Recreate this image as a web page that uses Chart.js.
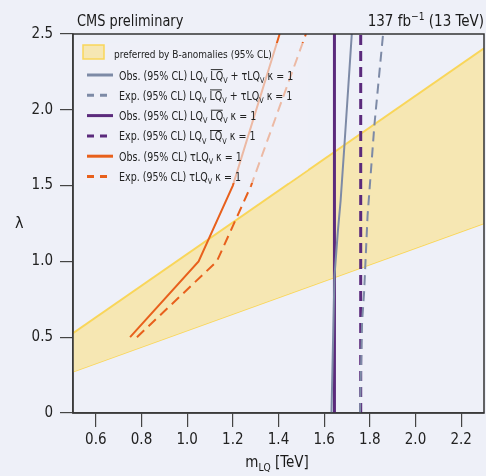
<!DOCTYPE html>
<html>
<head>
<meta charset="utf-8">
<script src="https://cdn.jsdelivr.net/npm/chart.js@4"></script>
<style>
  html, body { margin: 0; padding: 0; background: #eef0f8; }
  #wrap { width: 486px; height: 476px; position: relative; }
</style>
</head>
<body>
<div id="wrap"><canvas id="limitChart" width="486" height="476"></canvas></div>
<script>
// B-anomaly preferred band (edges at x = 0.5 and 2.3 TeV)
const bandX = [0.5, 2.3];
const bandUpper = [0.526, 2.405];
const bandLower = [0.272, 1.251];

// LQ LQbar + tau LQ, kappa = 1
const obsCombX = [1.632, 1.645, 1.66, 1.672, 1.688, 1.721];
const obsCombY = [0, 0.9, 1.2, 1.4, 1.75, 2.5];
const expCombX = [1.757, 1.766, 1.775, 1.79, 1.82, 1.858];
const expCombY = [0, 0.6, 0.8, 1.3, 1.9, 2.5];

// LQ LQbar, kappa = 1
const obsPairX = [1.645, 1.645];
const obsPairY = [0, 2.5];
const expPairX = [1.76, 1.76];
const expPairY = [0, 2.5];

// tau LQ, kappa = 1
const obsTauX = [0.75, 1.05, 1.20, 1.405];
const obsTauY = [0.5, 1.0, 1.5, 2.5];
const expTauX = [0.78, 1.13, 1.28, 1.52];
const expTauY = [0.5, 1.0, 1.5, 2.5];

const xTicks = [0.6, 0.8, 1.0, 1.2, 1.4, 1.6, 1.8, 2.0, 2.2];

const FONT = "'Liberation Sans Narrow', 'DejaVu Sans Condensed', 'Arial Narrow', sans-serif";
const GREY = '#7d8aa6';
const PURPLE = '#5b2a7c';
const ORANGE = '#e8601c';
const BAND_FILL = '#f6e7b3';
const BAND_EDGE = '#f9d65a';

function pts(xs, ys) {
    return xs.map(function(x, i) { return { x: x, y: ys[i] }; });
}

function lineSet(label, xs, ys, color, width, dash) {
    return {
        label: label,
        data: pts(xs, ys),
        showLine: true,
        borderColor: color,
        borderWidth: width,
        borderDash: dash || [],
        pointRadius: 0,
        fill: false,
        tension: 0,
        order: 1
    };
}

// draw text with subscripts / superscripts / overlines, optional horizontal squeeze
function drawRich(ctx, parts, x, y, size, squeeze) {
    var sx = squeeze || 1;
    ctx.save();
    ctx.translate(x, y);
    ctx.scale(sx, 1);
    var cx = 0;
    parts.forEach(function(p) {
        var fs = (p.sub || p.sup) ? size * 0.68 : size;
        ctx.font = fs + 'px ' + FONT;
        var dy = p.sub ? size * 0.28 : (p.sup ? -size * 0.42 : 0);
        ctx.fillText(p.t, cx, dy);
        var w = ctx.measureText(p.t).width;
        if (p.over) {
            ctx.strokeStyle = ctx.fillStyle;
            ctx.lineWidth = 1;
            ctx.beginPath();
            ctx.moveTo(cx + 0.5, -size * 0.86);
            ctx.lineTo(cx + w - 0.5, -size * 0.86);
            ctx.stroke();
        }
        cx += w;
    });
    ctx.restore();
    return x + cx * sx;
}

function richWidth(ctx, parts, size) {
    var w = 0;
    parts.forEach(function(p) {
        var fs = (p.sub || p.sup) ? size * 0.68 : size;
        ctx.font = fs + 'px ' + FONT;
        w += ctx.measureText(p.t).width;
    });
    return w;
}

const legendRows = [
    { color: GREY, dash: [], parts: [{t:'Obs. (95% CL) LQ'},{t:'V',sub:true},{t:' '},{t:'LQ',over:true},{t:'V',sub:true},{t:' + \u03c4LQ'},{t:'V',sub:true},{t:' \u03ba = 1'}] },
    { color: GREY, dash: [7, 6], parts: [{t:'Exp. (95% CL) LQ'},{t:'V',sub:true},{t:' '},{t:'LQ',over:true},{t:'V',sub:true},{t:' + \u03c4LQ'},{t:'V',sub:true},{t:' \u03ba = 1'}] },
    { color: PURPLE, dash: [], parts: [{t:'Obs. (95% CL) LQ'},{t:'V',sub:true},{t:' '},{t:'LQ',over:true},{t:'V',sub:true},{t:' \u03ba = 1'}] },
    { color: PURPLE, dash: [7, 6], parts: [{t:'Exp. (95% CL) LQ'},{t:'V',sub:true},{t:' '},{t:'LQ',over:true},{t:'V',sub:true},{t:' \u03ba = 1'}] },
    { color: ORANGE, dash: [], parts: [{t:'Obs. (95% CL) \u03c4LQ'},{t:'V',sub:true},{t:' \u03ba = 1'}] },
    { color: ORANGE, dash: [7, 6], parts: [{t:'Exp. (95% CL) \u03c4LQ'},{t:'V',sub:true},{t:' \u03ba = 1'}] }
];

// frame, semi transparent legend box, legend and titles
const decorPlugin = {
    id: 'decor',
    afterDatasetsDraw: function(chart) {
        var ctx = chart.ctx;
        var a = chart.chartArea;
        var xs = chart.scales.x, ys = chart.scales.y;
        ctx.save();

        // legend box washes out the lines behind it, but stays above the band
        var bx0 = a.left + 1, bx1 = 308, by0 = 43, by1 = 183;
        ctx.save();
        ctx.beginPath();
        ctx.rect(bx0, by0, bx1 - bx0, by1 - by0);
        ctx.clip();
        ctx.beginPath();
        ctx.moveTo(a.left, a.top);
        ctx.lineTo(a.right, a.top);
        ctx.lineTo(xs.getPixelForValue(bandX[1]), ys.getPixelForValue(bandUpper[1]) - 1);
        ctx.lineTo(xs.getPixelForValue(bandX[0]), ys.getPixelForValue(bandUpper[0]) - 1);
        ctx.closePath();
        ctx.clip();
        ctx.fillStyle = 'rgba(239, 240, 248, 0.62)';
        ctx.fillRect(bx0, by0, bx1 - bx0, by1 - by0);
        ctx.restore();

        // band swatch
        ctx.fillStyle = BAND_FILL;
        ctx.fillRect(83, 45, 21, 14);
        ctx.strokeStyle = BAND_EDGE;
        ctx.lineWidth = 1.5;
        ctx.strokeRect(83, 45, 21, 14);
        ctx.fillStyle = '#222';
        ctx.textBaseline = 'alphabetic';
        ctx.textAlign = 'left';
        drawRich(ctx, [{t:'preferred by B-anomalies (95% CL)'}], 114, 58, 10.5, 0.95);

        legendRows.forEach(function(r, i) {
            var y = 75 + i * 20.3;
            ctx.strokeStyle = r.color;
            ctx.lineWidth = 3;
            ctx.setLineDash(r.dash);
            ctx.beginPath();
            ctx.moveTo(87, y);
            ctx.lineTo(113, y);
            ctx.stroke();
            ctx.setLineDash([]);
            ctx.fillStyle = '#222';
            drawRich(ctx, r.parts, 119, y + 4.5, 11.5, 0.92);
        });

        // plot frame
        ctx.strokeStyle = '#333';
        ctx.lineWidth = 1.5;
        ctx.strokeRect(a.left, a.top, a.right - a.left, a.bottom - a.top);

        // header texts
        ctx.fillStyle = '#1a1a1a';
        drawRich(ctx, [{t:'CMS preliminary'}], 77, 26, 15, 0.96);
        var lumi = [{t:'137 fb'},{t:'\u22121',sup:true},{t:' (13 TeV)'}];
        drawRich(ctx, lumi, 484 - richWidth(ctx, lumi, 15), 26, 15);

        // axis titles
        var xt = [{t:'m'},{t:'LQ',sub:true},{t:' [TeV]'}];
        drawRich(ctx, xt, 277 - richWidth(ctx, xt, 15) / 2, 467, 15);
        drawRich(ctx, [{t:'\u03bb'}], 15, 228, 16);

        ctx.restore();
    }
};

const ctx = document.getElementById('limitChart').getContext('2d');

new Chart(ctx, {
    type: 'scatter',
    data: {
        datasets: [
            lineSet('obs comb', obsCombX, obsCombY, GREY, 2),
            lineSet('exp comb', expCombX, expCombY, GREY, 2, [10, 6]),
            lineSet('obs pair', obsPairX, obsPairY, PURPLE, 3),
            lineSet('exp pair', expPairX, expPairY, PURPLE, 3, [10, 6]),
            lineSet('obs tau', obsTauX, obsTauY, ORANGE, 2),
            lineSet('exp tau', expTauX, expTauY, ORANGE, 2, [10, 6]),
            {
                label: 'band upper',
                data: pts(bandX, bandUpper),
                showLine: true,
                borderColor: BAND_EDGE,
                borderWidth: 2,
                backgroundColor: BAND_FILL,
                pointRadius: 0,
                fill: '+1',
                order: 10
            },
            {
                label: 'band lower',
                data: pts(bandX, bandLower),
                showLine: true,
                borderColor: BAND_EDGE,
                borderWidth: 1.5,
                pointRadius: 0,
                fill: false,
                order: 10
            }
        ]
    },
    options: {
        responsive: false,
        animation: false,
        layout: { padding: { top: 34, right: 2, left: 0, bottom: 0 } },
        plugins: {
            legend: { display: false },
            tooltip: { enabled: false }
        },
        scales: {
            x: {
                type: 'linear',
                min: 0.5,
                max: 2.3,
                afterFit: function(s) { s.height = 63; },
                afterBuildTicks: function(s) {
                    s.ticks = xTicks.map(function(v) { return { value: v }; });
                },
                grid: { drawOnChartArea: false, drawTicks: true, tickLength: 14, color: '#444', lineWidth: 1.2 },
                border: { display: true, color: '#555', width: 1.5 },
                ticks: {
                    padding: 4,
                    color: '#222',
                    font: { family: FONT, size: 15 },
                    maxRotation: 0,
                    callback: function(v) { return v.toFixed(1); }
                }
            },
            y: {
                type: 'linear',
                min: 0,
                max: 2.5,
                afterFit: function(s) { s.width = 73; },
                grid: { drawOnChartArea: false, drawTicks: true, tickLength: 13, color: '#444', lineWidth: 1.2 },
                border: { display: true, color: '#555', width: 1.5 },
                ticks: {
                    stepSize: 0.5,
                    padding: 7,
                    color: '#222',
                    font: { family: FONT, size: 15 },
                    callback: function(v) { return v === 0 ? '0' : v.toFixed(1); }
                }
            }
        }
    },
    plugins: [decorPlugin]
});
</script>
</body>
</html>
